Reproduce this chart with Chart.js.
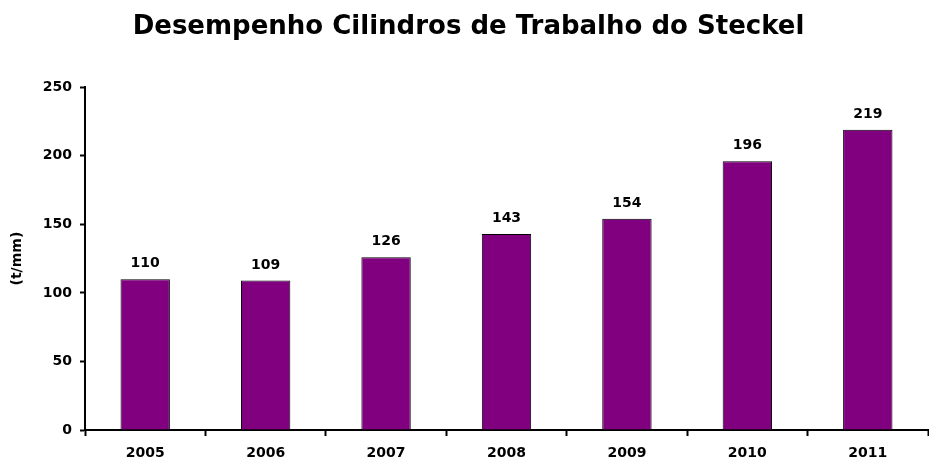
<!DOCTYPE html>
<html>
<head>
<meta charset="utf-8">
<script src="https://cdn.jsdelivr.net/npm/chart.js@4"></script>
<style>
  html, body { margin: 0; padding: 0; background: #fff; }
  #wrap { width: 929px; height: 463px; }
</style>
</head>
<body>
<div id="wrap"><canvas id="chart" width="929" height="463"></canvas></div>
<script>
const years = ["2005", "2006", "2007", "2008", "2009", "2010", "2011"];
const values = [110, 109, 126, 143, 154, 196, 219];
const yTicks = [0, 50, 100, 150, 200, 250];

const FONT = "'DejaVu Sans', Arial, sans-serif";

// draws the number above each bar
const barLabels = {
  id: "barLabels",
  afterDatasetsDraw(chart) {
    const ctx = chart.ctx;
    const meta = chart.getDatasetMeta(0);
    ctx.save();
    ctx.font = "bold 14px " + FONT;
    ctx.fillStyle = "#000";
    ctx.textAlign = "center";
    ctx.textBaseline = "alphabetic";
    meta.data.forEach((bar, i) => {
      ctx.fillText(values[i], bar.x, bar.y - 12);
    });
    ctx.restore();
  },
};

const ctx = document.getElementById("chart");

new Chart(ctx, {
  type: "bar",
  data: {
    labels: years,
    datasets: [
      {
        data: values,
        backgroundColor: "#800080",
        borderColor: "#000",
        borderWidth: 1,
        barPercentage: 0.41,
        categoryPercentage: 1,
      },
    ],
  },
  options: {
    responsive: false,
    animation: false,
    layout: { padding: { left: 9, right: 1, top: 0, bottom: 0 } },
    plugins: {
      legend: { display: false },
      tooltip: { enabled: false },
      title: {
        display: true,
        text: "Desempenho Cilindros de Trabalho do Steckel",
        color: "#000",
        font: { family: FONT, size: 26, weight: "bold" },
        padding: { top: 12, bottom: 44 },
      },
    },
    scales: {
      x: {
        afterFit(scale) {
          scale.height = 33;
        },
        grid: {
          offset: true,
          drawOnChartArea: false,
          drawTicks: true,
          tickLength: 6,
          tickWidth: 2,
          tickColor: "#000",
        },
        border: { color: "#000", width: 2 },
        ticks: {
          color: "#000",
          font: { family: FONT, size: 14, weight: "bold" },
          padding: 9,
          maxRotation: 0,
        },
      },
      y: {
        min: 0,
        max: 250,
        afterBuildTicks(axis) {
          axis.ticks = yTicks.map((v) => ({ value: v }));
        },
        afterFit(scale) {
          scale.width = 76;
        },
        grid: {
          drawOnChartArea: false,
          drawTicks: true,
          tickLength: 5,
          tickWidth: 2,
          tickColor: "#000",
        },
        border: { color: "#000", width: 2 },
        ticks: {
          color: "#000",
          font: { family: FONT, size: 14, weight: "bold" },
          padding: 8,
        },
        title: {
          display: true,
          text: "(t/mm)",
          color: "#000",
          font: { family: FONT, size: 14, weight: "bold" },
          padding: { top: 0, bottom: 9 },
        },
      },
    },
  },
  plugins: [barLabels],
});
</script>
</body>
</html>
